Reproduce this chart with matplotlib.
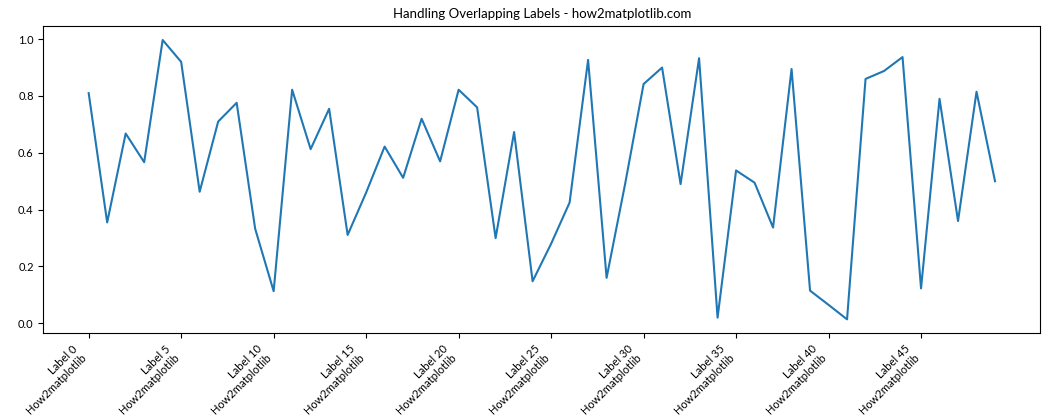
import matplotlib
matplotlib.use("Agg")
import matplotlib.pyplot as plt
import numpy as np

plt.rcParams['font.family'] = ['Lato', 'DejaVu Sans']
plt.rcParams['xtick.labelsize'] = 8
plt.rcParams['ytick.labelsize'] = 8

# values
x = np.arange(50)
y = [0.81, 0.355, 0.668, 0.567, 0.997, 0.92, 0.463, 0.71, 0.776, 0.333,
     0.113, 0.822, 0.613, 0.755, 0.311, 0.46, 0.622, 0.512, 0.72, 0.57,
     0.822, 0.76, 0.30, 0.673, 0.148, 0.28, 0.425, 0.927, 0.16, 0.49,
     0.842, 0.90, 0.49, 0.933, 0.02, 0.538, 0.495, 0.337, 0.895, 0.115,
     0.065, 0.014, 0.86, 0.888, 0.937, 0.123, 0.79, 0.36, 0.815, 0.50]
tick_pos = list(range(0, 50, 5))
tick_labels = [f"Label {i}\nHow2matplotlib" for i in tick_pos]

fig, ax = plt.subplots(figsize=(10.5, 4.2), dpi=100)
ax.plot(x, y)
ax.set_title("Handling Overlapping Labels - how2matplotlib.com", fontsize=9.5)
ax.set_xticks(tick_pos)
ax.set_xticklabels(tick_labels, rotation=45, ha='right')

# same frame as the reference
plt.subplots_adjust(left=0.0413, right=0.9908, top=0.938, bottom=0.2064)
plt.savefig("out.png")
